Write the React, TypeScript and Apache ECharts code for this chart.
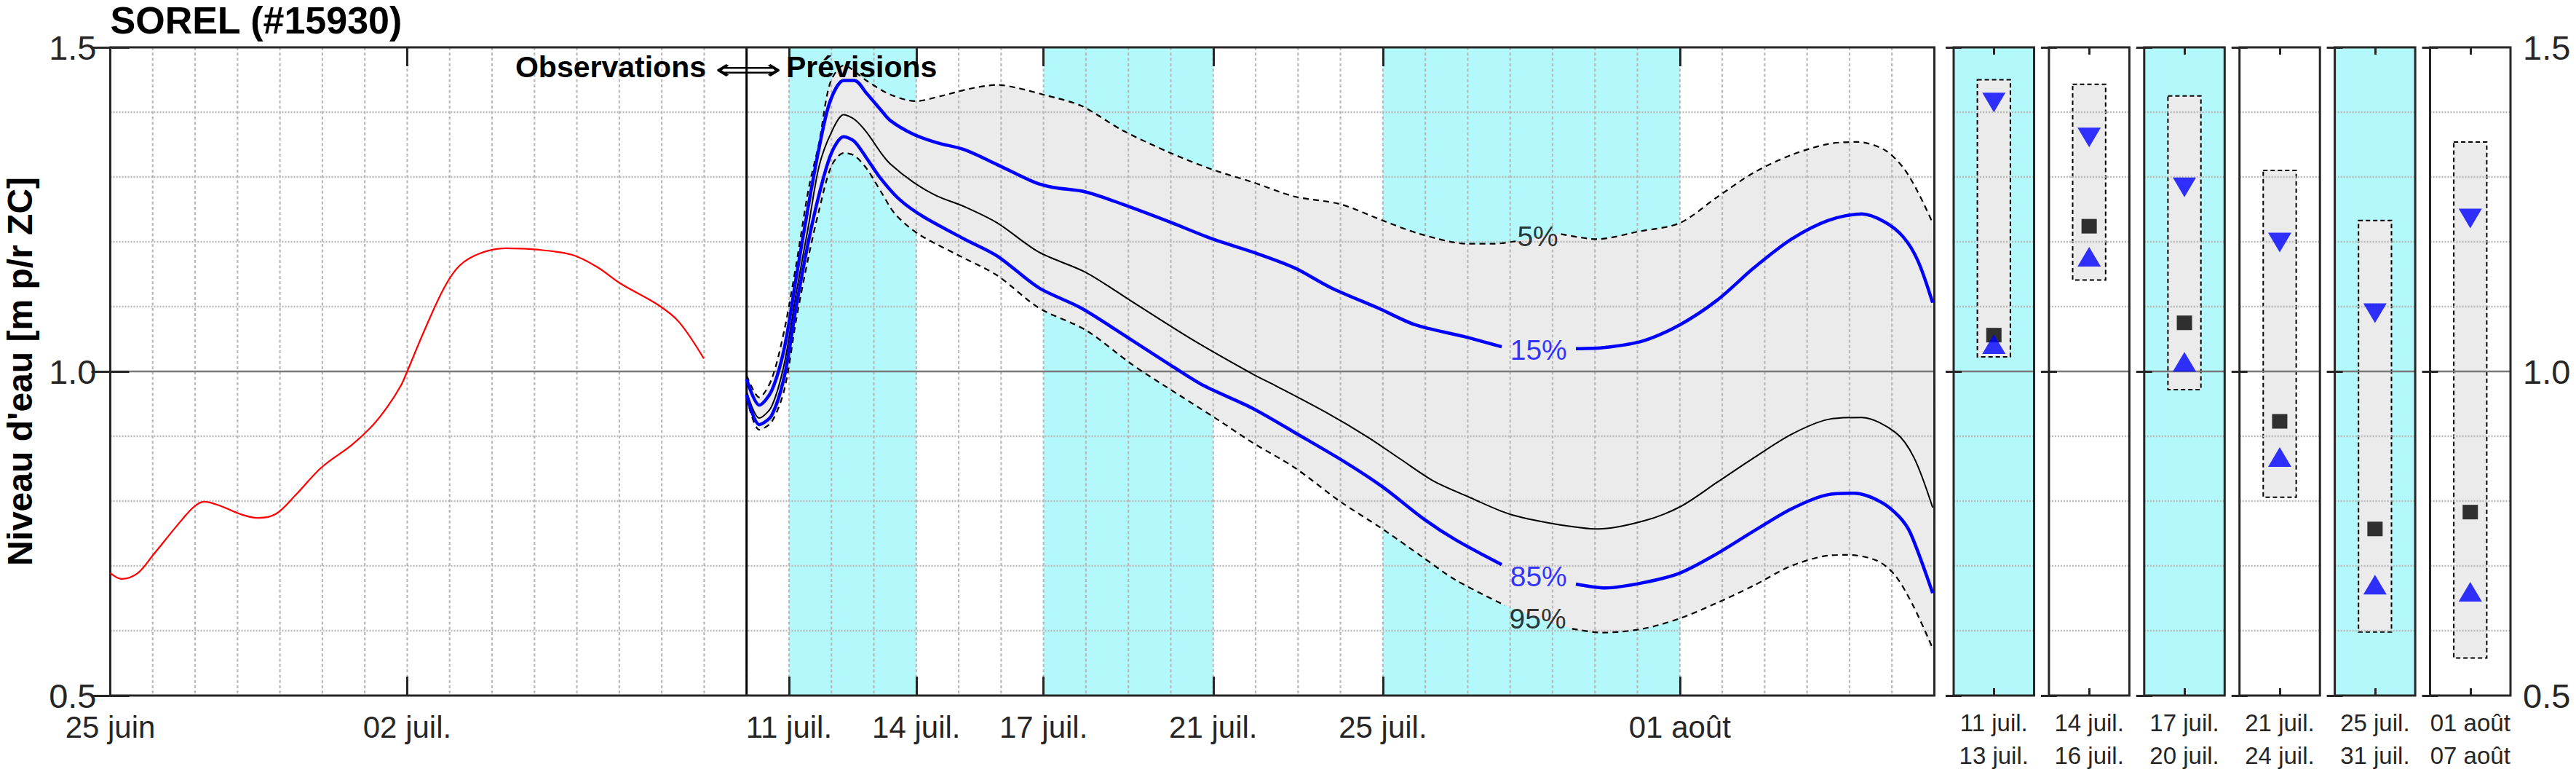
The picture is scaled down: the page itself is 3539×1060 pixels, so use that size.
import React, { useEffect, useRef } from 'react';
import * as echarts from 'echarts';

// ---------- text ----------
const TITLE = 'SOREL (#15930)';
const Y_NAME = "Niveau d'eau [m p/r ZC]";
const OBS_TEXT = 'Observations';
const ARROW_TEXT = '\u27FA';
const FCST_TEXT = 'Prévisions';

// ---------- axes (x in days since 25 juin 00:00) ----------
const X_MAX = 43;
const Y_MIN = 0.5;
const Y_MAX = 1.5;
const tickDays = [0, 7, 16, 19, 22, 26, 30, 37];
const tickLabels = ['25 juin', '02 juil.', '11 juil.', '14 juil.', '17 juil.', '21 juil.', '25 juil.', '01 août'];
const yTicks = [0.5, 1.0, 1.5];
const yMinor = [0.6, 0.7, 0.8, 0.9, 1.1, 1.2, 1.3, 1.4];
const forecastStart = 15;
const shadedBands = [[16, 19], [22, 26], [30, 37]];

// ---------- observations ----------
const obsDays = [0, 0.27, 0.65, 1.0, 1.61, 1.97, 2.21, 2.58, 3.06, 3.48, 3.9, 4.38, 4.98, 5.7, 6.19, 6.55, 6.85, 7.0, 7.39, 7.87, 8.23, 8.71, 9.32, 10.04, 10.88, 11.48, 12.02, 12.93, 13.41, 13.99];
const obsLevel = [0.689, 0.68, 0.689, 0.716, 0.765, 0.791, 0.799, 0.793, 0.78, 0.774, 0.78, 0.81, 0.852, 0.887, 0.917, 0.947, 0.978, 1.0, 1.061, 1.129, 1.163, 1.182, 1.19, 1.188, 1.18, 1.161, 1.136, 1.102, 1.076, 1.02];

// ---------- forecast percentiles ----------
const p05Days = [15.0, 15.3, 15.59, 15.89, 16.17, 16.46, 16.71, 16.97, 17.29, 17.84, 18.39, 18.99, 19.59, 20.25, 20.91, 21.34, 22.0, 22.88, 23.86, 24.96, 26.0, 26.93, 27.91, 29.0, 29.99, 30.88, 32.0, 32.63, 33.15, 34.2, 35.04, 36.04, 37.0, 37.88, 38.75, 39.63, 40.5, 41.2, 41.82, 42.26, 42.61, 42.96];
const p05 = [0.994, 0.96, 0.988, 1.064, 1.165, 1.281, 1.353, 1.445, 1.472, 1.448, 1.427, 1.417, 1.425, 1.436, 1.442, 1.438, 1.427, 1.41, 1.372, 1.338, 1.311, 1.292, 1.27, 1.258, 1.233, 1.212, 1.197, 1.197, 1.201, 1.212, 1.204, 1.216, 1.229, 1.269, 1.307, 1.334, 1.351, 1.354, 1.342, 1.315, 1.277, 1.229];

const p15Days = [15.0, 15.3, 15.59, 15.89, 16.17, 16.46, 16.71, 16.97, 17.29, 17.54, 17.83, 18.17, 18.39, 18.93, 19.48, 20.14, 20.91, 21.78, 22.22, 22.99, 23.86, 24.96, 26.0, 27.03, 27.91, 28.78, 29.88, 30.76, 31.9, 32.8, 34.55, 35.25, 36.13, 37.0, 37.88, 38.75, 39.63, 40.5, 41.29, 41.82, 42.26, 42.61, 42.96];
const p15 = [0.988, 0.948, 0.97, 1.036, 1.145, 1.257, 1.345, 1.417, 1.449, 1.449, 1.429, 1.403, 1.387, 1.366, 1.353, 1.342, 1.319, 1.292, 1.284, 1.277, 1.258, 1.231, 1.204, 1.182, 1.16, 1.129, 1.098, 1.072, 1.054, 1.038, 1.035, 1.037, 1.047, 1.072, 1.11, 1.16, 1.204, 1.233, 1.243, 1.231, 1.208, 1.171, 1.106];

const p50Days = [15.0, 15.3, 15.59, 15.89, 16.17, 16.46, 16.71, 17.0, 17.29, 17.54, 17.83, 18.17, 18.39, 18.93, 19.48, 20.14, 20.91, 21.89, 22.99, 24.08, 25.51, 26.93, 27.47, 28.68, 29.66, 30.43, 31.19, 32.0, 32.98, 34.03, 35.08, 36.13, 37.0, 37.88, 38.75, 39.63, 40.5, 41.29, 42.08, 42.52, 42.96];
const p50 = [0.969, 0.928, 0.946, 1.012, 1.121, 1.225, 1.317, 1.369, 1.396, 1.389, 1.369, 1.337, 1.32, 1.292, 1.271, 1.254, 1.229, 1.184, 1.153, 1.108, 1.049, 0.996, 0.978, 0.936, 0.898, 0.864, 0.831, 0.807, 0.78, 0.765, 0.757, 0.769, 0.791, 0.829, 0.867, 0.903, 0.926, 0.929, 0.906, 0.867, 0.79];

const p85Days = [15.0, 15.3, 15.59, 15.89, 16.17, 16.46, 16.71, 17.0, 17.29, 17.54, 17.83, 18.17, 18.61, 19.16, 20.14, 20.91, 21.89, 22.88, 23.97, 25.06, 25.78, 26.93, 28.02, 29.11, 29.99, 30.97, 31.72, 32.8, 34.55, 35.25, 36.13, 37.0, 37.88, 38.75, 39.63, 40.5, 41.12, 41.73, 42.17, 42.44, 42.96];
const p85 = [0.964, 0.918, 0.932, 0.992, 1.1, 1.201, 1.273, 1.337, 1.362, 1.355, 1.329, 1.297, 1.265, 1.239, 1.204, 1.178, 1.129, 1.098, 1.053, 1.007, 0.978, 0.943, 0.902, 0.86, 0.822, 0.772, 0.74, 0.702, 0.672, 0.666, 0.674, 0.689, 0.719, 0.754, 0.788, 0.81, 0.812, 0.799, 0.776, 0.75, 0.658];

const p95Days = [15.0, 15.3, 15.59, 15.89, 16.17, 16.46, 16.71, 17.0, 17.29, 17.54, 17.83, 18.17, 18.5, 19.05, 20.03, 20.91, 21.89, 22.99, 24.08, 24.85, 26.05, 26.93, 27.91, 29.0, 29.99, 30.97, 31.72, 32.88, 34.46, 35.17, 36.13, 37.0, 37.88, 38.75, 39.63, 40.5, 40.95, 41.65, 42.08, 42.52, 42.96];
const p95 = [0.96, 0.91, 0.922, 0.972, 1.08, 1.177, 1.249, 1.317, 1.337, 1.333, 1.313, 1.277, 1.243, 1.212, 1.178, 1.148, 1.098, 1.064, 1.011, 0.978, 0.928, 0.89, 0.852, 0.799, 0.757, 0.712, 0.678, 0.639, 0.603, 0.597, 0.603, 0.619, 0.643, 0.67, 0.7, 0.716, 0.717, 0.708, 0.685, 0.636, 0.573];

// in-line percentile labels
const pctLabelText = ['5%', '15%', '85%', '95%'];
const pctLabelDay = [33.65, 33.67, 33.67, 33.65];
const pctLabelLevel = [1.208, 1.033, 0.684, 0.619];
const pctLabelBlue = [false, true, true, false];

// ---------- period summary panels ----------
const periodStart = ['11 juil.', '14 juil.', '17 juil.', '21 juil.', '25 juil.', '01 août'];
const periodEnd = ['13 juil.', '16 juil.', '20 juil.', '24 juil.', '31 juil.', '07 août'];
const periodHigh = [1.45, 1.443, 1.425, 1.31, 1.233, 1.354];
const periodLow = [1.0225, 1.141, 0.972, 0.806, 0.598, 0.558];
const period15 = [1.415, 1.361, 1.284, 1.199, 1.09, 1.236];
const period50 = [1.056, 1.224, 1.075, 0.923, 0.757, 0.783];
const period85 = [1.042, 1.177, 1.015, 0.868, 0.671, 0.66];
const periodShaded = [true, false, true, false, true, false];

// ---------- style ----------
const FONT = '"Liberation Sans", Arial, Helvetica, sans-serif';
const AXIS_COLOR = '#262626';
const CYAN = '#B3F8FB';
const GRAY_FILL = '#EBEBEB';
const GRID_COLOR = '#B9B9B9';
const ONE_LINE_COLOR = '#7A7A7A';
const BLUE = '#0000FF';

const MAIN_LEFT = 151.5;
const MAIN_TOP = 65;
const MAIN_W = 2506;
const MAIN_H = 890;
const PANEL_LEFT0 = 2684;
const PANEL_PITCH = 130.9;
const PANEL_W = 110.5;

function withGap(days: number[], vals: number[], gapAt: number | null) {
  const out: any[] = [];
  for (let i = 0; i < days.length; i++) {
    if (gapAt !== null && i > 0 && days[i - 1] < gapAt && days[i] > gapAt) out.push([gapAt, '-']);
    out.push([days[i], vals[i]]);
  }
  return out;
}

function hGridLines(api: any, xa: number, xb: number) {
  const kids: any[] = [];
  yMinor.forEach((v) => {
    const y = api.coord([xa, v])[1];
    kids.push({
      type: 'line',
      shape: { x1: api.coord([xa, v])[0], y1: y, x2: api.coord([xb, v])[0], y2: y },
      style: { stroke: GRID_COLOR, lineWidth: 2.5, lineDash: [2, 2] },
      z2: 2,
    });
  });
  const y1 = api.coord([xa, 1.0])[1];
  kids.push({
    type: 'line',
    shape: { x1: api.coord([xa, 1.0])[0], y1: y1, x2: api.coord([xb, 1.0])[0], y2: y1 },
    style: { stroke: ONE_LINE_COLOR, lineWidth: 2.5 },
    z2: 3,
  });
  return kids;
}

function renderMainBackground(_params: any, api: any) {
  const children: any[] = [];
  const top = api.coord([0, Y_MAX])[1];
  const bottom = api.coord([0, Y_MIN])[1];
  shadedBands.forEach(([a, b]) => {
    const xa = api.coord([a, Y_MAX])[0];
    const xb = api.coord([b, Y_MAX])[0];
    children.push({ type: 'rect', shape: { x: xa, y: top, width: xb - xa, height: bottom - top }, style: { fill: CYAN }, z2: 0 });
  });
  const pts: number[][] = [];
  p05Days.forEach((d, i) => pts.push(api.coord([d, p05[i]])));
  for (let i = p95Days.length - 1; i >= 0; i--) pts.push(api.coord([p95Days[i], p95[i]]));
  children.push({ type: 'polygon', shape: { points: pts, smooth: 0.3 }, style: { fill: GRAY_FILL }, z2: 1 });
  for (let d = 1; d < X_MAX; d++) {
    const x = api.coord([d, Y_MAX])[0];
    children.push({
      type: 'line',
      shape: { x1: x, y1: top, x2: x, y2: bottom },
      style: { stroke: GRID_COLOR, lineWidth: 2.2, lineDash: [4, 3.3] },
      z2: 2,
    });
  }
  hGridLines(api, 0, X_MAX).forEach((k) => children.push(k));
  const xs = api.coord([forecastStart, Y_MAX])[0];
  children.push({ type: 'line', shape: { x1: xs, y1: top, x2: xs, y2: bottom }, style: { stroke: '#000', lineWidth: 3 }, z2: 4 });
  return { type: 'group', children };
}

function makePanelRenderer(i: number) {
  return (_params: any, api: any) => {
    const children: any[] = [];
    const tl = api.coord([0, Y_MAX]);
    const br = api.coord([1, Y_MIN]);
    if (periodShaded[i]) {
      children.push({ type: 'rect', shape: { x: tl[0], y: tl[1], width: br[0] - tl[0], height: br[1] - tl[1] }, style: { fill: CYAN }, z2: 0 });
    }
    const a = api.coord([0.295, periodHigh[i]]);
    const b = api.coord([0.705, periodLow[i]]);
    children.push({
      type: 'rect',
      shape: { x: a[0], y: a[1], width: b[0] - a[0], height: b[1] - a[1] },
      style: { fill: GRAY_FILL, stroke: '#000', lineWidth: 2, lineDash: [6, 4] },
      z2: 1,
    });
    hGridLines(api, 0, 1).forEach((k) => children.push(k));
    return { type: 'group', children };
  };
}

function fmtDay(v: number) {
  const idx = tickDays.findIndex((d) => Math.abs(d - v) < 1e-6);
  return idx >= 0 ? tickLabels[idx] : '';
}

function buildOption() {
  const tickStyle = { color: AXIS_COLOR, width: 3 };
  const grids: any[] = [
    { left: MAIN_LEFT, top: MAIN_TOP, width: MAIN_W, height: MAIN_H, show: true, backgroundColor: 'transparent', borderColor: AXIS_COLOR, borderWidth: 3 },
  ];
  const xAxes: any[] = [
    {
      gridIndex: 0, type: 'value', min: 0, max: X_MAX, interval: 1, position: 'bottom',
      axisLine: { show: false },
      axisTick: { show: true, inside: true, length: 26, customValues: tickDays, lineStyle: tickStyle },
      axisLabel: { show: true, customValues: tickDays, margin: 22, fontSize: 42, color: AXIS_COLOR, fontFamily: FONT, formatter: (v: number) => fmtDay(v) },
      splitLine: { show: false },
    },
    {
      gridIndex: 0, type: 'value', min: 0, max: X_MAX, interval: 1, position: 'top',
      axisLine: { show: false },
      axisTick: { show: true, inside: true, length: 26, customValues: tickDays, lineStyle: tickStyle },
      axisLabel: { show: false },
      splitLine: { show: false },
    },
  ];
  const yAxes: any[] = [
    {
      gridIndex: 0, type: 'value', min: Y_MIN, max: Y_MAX, interval: 0.1, position: 'left',
      axisLine: { show: false },
      axisTick: { show: true, inside: true, length: 26, customValues: yTicks, lineStyle: tickStyle },
      axisLabel: { show: true, customValues: yTicks, margin: 19, fontSize: 47, color: AXIS_COLOR, fontFamily: FONT, formatter: (v: number) => v.toFixed(1) },
      splitLine: { show: false },
    },
    {
      gridIndex: 0, type: 'value', min: Y_MIN, max: Y_MAX, interval: 0.1, position: 'right',
      axisLine: { show: false },
      axisTick: { show: true, inside: true, length: 26, customValues: yTicks, lineStyle: tickStyle },
      axisLabel: { show: false },
      splitLine: { show: false },
    },
  ];

  const series: any[] = [
    { type: 'custom', name: 'fond', xAxisIndex: 0, yAxisIndex: 0, z: -1, silent: true, data: [[0, 1]], renderItem: renderMainBackground },
    {
      type: 'line', name: 'Observations', xAxisIndex: 0, yAxisIndex: 0, z: 3, smooth: 0.35, symbol: 'none',
      lineStyle: { color: '#FF0000', width: 2.2 }, data: obsDays.map((d, i) => [d, obsLevel[i]]),
    },
    {
      type: 'line', name: '5%', xAxisIndex: 0, yAxisIndex: 0, z: 3, smooth: 0.3, symbol: 'none',
      lineStyle: { color: '#000', width: 2.2, type: [8, 6] }, data: withGap(p05Days, p05, 33.65),
    },
    {
      type: 'line', name: '95%', xAxisIndex: 0, yAxisIndex: 0, z: 3, smooth: 0.3, symbol: 'none',
      lineStyle: { color: '#000', width: 2.2, type: [8, 6] }, data: withGap(p95Days, p95, 33.65),
    },
    {
      type: 'line', name: '50%', xAxisIndex: 0, yAxisIndex: 0, z: 3, smooth: 0.3, symbol: 'none',
      lineStyle: { color: '#000', width: 2 }, data: withGap(p50Days, p50, null),
    },
    {
      type: 'line', name: '15%', xAxisIndex: 0, yAxisIndex: 0, z: 4, smooth: 0.3, symbol: 'none',
      lineStyle: { color: BLUE, width: 4.5 }, data: withGap(p15Days, p15, 33.67),
    },
    {
      type: 'line', name: '85%', xAxisIndex: 0, yAxisIndex: 0, z: 4, smooth: 0.3, symbol: 'none',
      lineStyle: { color: BLUE, width: 4.5 }, data: withGap(p85Days, p85, 33.67),
    },
    {
      type: 'scatter', name: 'étiquettes', xAxisIndex: 0, yAxisIndex: 0, z: 5, symbolSize: 1,
      itemStyle: { color: 'rgba(0,0,0,0)' },
      data: pctLabelText.map((t, i) => ({
        value: [pctLabelDay[i], pctLabelLevel[i]],
        name: t,
        label: {
          show: true, position: 'inside', formatter: t, fontSize: 39, fontFamily: FONT,
          color: pctLabelBlue[i] ? BLUE : '#000',
        },
      })),
    },
  ];

  for (let i = 0; i < periodStart.length; i++) {
    const g = i + 1;
    const last = i === periodStart.length - 1;
    grids.push({
      left: PANEL_LEFT0 + i * PANEL_PITCH, top: MAIN_TOP, width: PANEL_W, height: MAIN_H,
      show: true, backgroundColor: 'transparent', borderColor: AXIS_COLOR, borderWidth: 3,
    });
    xAxes.push({
      gridIndex: g, type: 'value', min: 0, max: 1, interval: 0.5, position: 'bottom',
      axisLine: { show: false },
      axisTick: { show: true, inside: true, length: 10, customValues: [0.5], lineStyle: tickStyle },
      axisLabel: {
        show: true, customValues: [0.5], margin: 15, fontSize: 33, lineHeight: 45, color: AXIS_COLOR, fontFamily: FONT,
        formatter: () => periodStart[i] + '\n' + periodEnd[i],
      },
      splitLine: { show: false },
    });
    xAxes.push({
      gridIndex: g, type: 'value', min: 0, max: 1, interval: 0.5, position: 'top',
      axisLine: { show: false },
      axisTick: { show: true, inside: true, length: 10, customValues: [0.5], lineStyle: tickStyle },
      axisLabel: { show: false },
      splitLine: { show: false },
    });
    yAxes.push({
      gridIndex: g, type: 'value', min: Y_MIN, max: Y_MAX, interval: 0.1, position: 'left',
      axisLine: { show: false },
      axisTick: { show: true, inside: true, length: 11, customValues: yTicks, lineStyle: tickStyle },
      axisLabel: { show: false },
      splitLine: { show: false },
    });
    yAxes.push({
      gridIndex: g, type: 'value', min: Y_MIN, max: Y_MAX, interval: 0.1, position: 'right',
      axisLine: { show: false },
      axisTick: { show: true, inside: true, length: 11, customValues: yTicks, lineStyle: tickStyle },
      axisLabel: last
        ? { show: true, customValues: yTicks, margin: 17, fontSize: 47, color: AXIS_COLOR, fontFamily: FONT, formatter: (v: number) => v.toFixed(1) }
        : { show: false },
      splitLine: { show: false },
    });
    const xi = 2 + 2 * i;
    const yi = 2 + 2 * i;
    series.push({
      type: 'custom', name: 'période ' + (i + 1), xAxisIndex: xi, yAxisIndex: yi, z: -1, silent: true,
      data: [[0.5, 1]], renderItem: makePanelRenderer(i),
    });
    series.push({
      type: 'scatter', name: 'marqueurs ' + (i + 1), xAxisIndex: xi, yAxisIndex: yi, z: 5,
      data: [
        { value: [0.5, period50[i]], symbol: 'rect', symbolSize: [21, 20], itemStyle: { color: '#000' } },
        { value: [0.5, period15[i]], symbol: 'triangle', symbolRotate: 180, symbolSize: [32, 27], itemStyle: { color: BLUE } },
        { value: [0.5, period85[i]], symbol: 'triangle', symbolSize: [32, 27], itemStyle: { color: BLUE } },
      ],
    });
  }

  const graphic: any[] = [
    { type: 'text', x: MAIN_LEFT, y: 2, style: { text: TITLE, fontSize: 52, fontWeight: 'bold', fontFamily: FONT, fill: '#000', align: 'left', verticalAlign: 'top' } },
    { type: 'text', x: 27, y: 510, rotation: Math.PI / 2, style: { text: Y_NAME, fontSize: 48, fontWeight: 'bold', fontFamily: FONT, fill: '#000', align: 'center', verticalAlign: 'middle' } },
    { type: 'text', x: 970, y: 92, z: 10, style: { text: OBS_TEXT, fontSize: 41, fontWeight: 'bold', fontFamily: FONT, fill: '#000', align: 'right', verticalAlign: 'middle' } },
    { type: 'text', x: 1028, y: 95, z: 10, scaleX: 1.6, style: { text: ARROW_TEXT, fontSize: 40, fontFamily: '"DejaVu Sans"', fill: '#000', align: 'center', verticalAlign: 'middle' } },
    { type: 'text', x: 1080, y: 92, z: 10, style: { text: FCST_TEXT, fontSize: 41, fontWeight: 'bold', fontFamily: FONT, fill: '#000', align: 'left', verticalAlign: 'middle' } },
  ];

  return {
    animation: false,
    backgroundColor: '#FFFFFF',
    textStyle: { fontFamily: FONT },
    grid: grids,
    xAxis: xAxes,
    yAxis: yAxes,
    series,
    graphic,
  };
}

export default function App() {
  const ref = useRef<HTMLDivElement>(null);
  useEffect(() => {
    if (!ref.current) return;
    const chart = echarts.init(ref.current, undefined, { renderer: 'svg' });
    chart.setOption(buildOption() as any);
    return () => chart.dispose();
  }, []);
  return <div ref={ref} style={{ position: 'absolute', left: 0, top: 0, width: 3539, height: 1060 }} />;
}
